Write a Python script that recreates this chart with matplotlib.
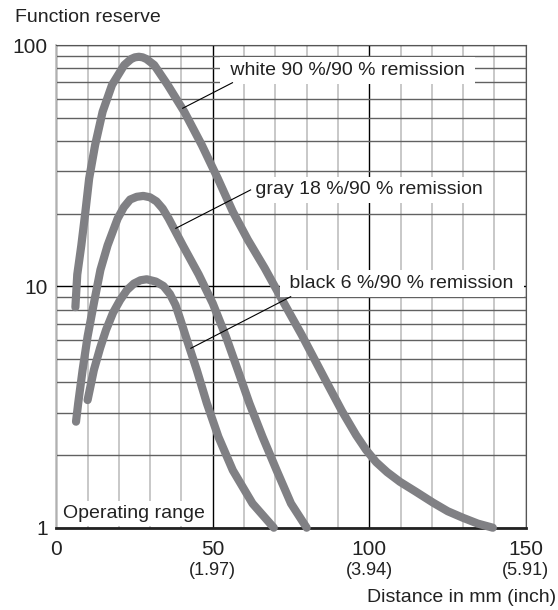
import numpy as np
import matplotlib
matplotlib.use("Agg")
import matplotlib.pyplot as plt
from matplotlib.ticker import FixedLocator, NullFormatter

plt.rcParams['font.family'] = ['Liberation Sans', 'DejaVu Sans']

# --- data (distance in mm, function reserve) ---
white_x = [6.1, 6.7, 8.0, 9.3, 10.5, 12.4, 14.8, 17.8, 21.7, 23.9, 25.1, 26.4, 27.6, 28.8,
           31.3, 35.6, 40.9, 46.5, 51.6, 56.4, 61.2, 66.6, 69.8, 72.8, 78.4, 86.4, 91.3,
           95.8, 99.0, 102.2, 105.7, 109.8, 114.9, 120.4, 125.1, 129.9, 134.7, 139.5]
white_y = [8.2, 11.2, 14.8, 20.4, 28, 38.5, 52.9, 68.3, 82.6, 87.5, 88.9, 89.4, 88.9, 87.5,
           82.6, 68.3, 52.9, 38.5, 28, 20.4, 15.6, 11.9, 10.0, 8.5, 6.3, 4.0, 3.04,
           2.42, 2.10, 1.87, 1.70, 1.55, 1.41, 1.27, 1.17, 1.10, 1.04, 1.0]

gray_x = [6.3, 7.0, 8.4, 10.0, 12.0, 14.1, 16.4, 19.6, 21.6, 23.6, 25.7, 27.8, 29.9, 32.0,
          34.0, 35.9, 40.4, 45.5, 50.0, 54.2, 58.0, 61.7, 65.9, 70.4, 75.0, 80.0]
gray_y = [2.75, 3.28, 4.5, 6.2, 8.5, 11.7, 14.8, 19.1, 21.3, 22.9, 23.5, 23.7, 23.4, 22.5,
          21.0, 19.1, 14.8, 11.2, 8.5, 6.2, 4.5, 3.28, 2.38, 1.73, 1.26, 1.0]

black_x = [10.0, 12.0, 14.0, 15.9, 18.1, 20.4, 22.6, 24.8, 26.9, 28.9, 31.8, 34.25, 36.3,
           38.1, 39.7, 41.4, 44.9, 48.1, 51.8, 56.4, 62.7, 69.5]
black_y = [3.38, 4.5, 5.55, 6.6, 7.76, 8.78, 9.66, 10.27, 10.6, 10.7, 10.47, 10.03, 9.3,
           8.37, 7.25, 6.19, 4.5, 3.28, 2.38, 1.73, 1.26, 1.0]

labels = ["white 90 %/90 % remission", "gray 18 %/90 % remission", "black 6 %/90 % remission"]
label_pos = [(53.8, 78.3), (61.8, 25.1), (72.9, 10.3)]
# leader lines: (curve point, label point)
leaders = [((40.4, 54.7), (56.3, 69.8)),
           ((38.2, 17.4), (62.1, 25.1)),
           ((43.0, 5.54), (74.9, 9.06))]

x_ticks = [0, 50, 100, 150]
x_inch = ["", "(1.97)", "(3.94)", "(5.91)"]
y_ticks = [1, 10, 100]
y_tick_labels = ["1", "10", "100"]

curve_col = "#808084"

fig = plt.figure(figsize=(5.58, 6.10), dpi=100)
ax = fig.add_axes([0.1009, 0.1349, 0.8412, 0.7913])
ax.set_yscale("log")
ax.set_xlim(0, 150)
ax.set_ylim(1, 100)

# grid
ax.xaxis.set_major_locator(FixedLocator(x_ticks))
ax.xaxis.set_minor_locator(FixedLocator(np.arange(10, 150, 10)))
ax.yaxis.set_major_locator(FixedLocator(y_ticks))
ax.yaxis.set_minor_locator(FixedLocator([2, 3, 4, 5, 6, 7, 8, 9, 20, 30, 40, 50, 60, 70, 80, 90]))
ax.yaxis.set_minor_formatter(NullFormatter())
ax.grid(which="major", axis="x", color="black", lw=1.0)
ax.grid(which="minor", axis="x", color="#c4c4c4", lw=1.3)
ax.grid(which="major", axis="y", color="black", lw=1.0)
ax.grid(which="minor", axis="y", color="#616161", lw=1.0)
ax.set_axisbelow(True)

ax.spines["left"].set_color("#c4c4c4")
ax.spines["left"].set_linewidth(1.3)
ax.spines["top"].set_color("#555555")
ax.spines["right"].set_color("#555555")
ax.spines["bottom"].set_color("#222222")
ax.spines["bottom"].set_linewidth(2.0)

ax.set_xticklabels([str(t) for t in x_ticks], fontsize=15, color="#222222")
ax.set_yticklabels(y_tick_labels, fontsize=15, color="#222222")
ax.tick_params(which="both", length=0)
ax.tick_params(axis="x", pad=9)
ax.tick_params(axis="y", pad=6)

for t, s in zip(x_ticks, x_inch):
    if s:
        ax.annotate(s, xy=(t, 1), xytext=(0, -31), textcoords="offset points",
                    ha="center", va="center", fontsize=13, color="#222222",
                    annotation_clip=False)

# curves
for xs, ys in [(white_x, white_y), (gray_x, gray_y), (black_x, black_y)]:
    ax.plot(xs, ys, color=curve_col, lw=5.9, solid_capstyle="round",
            solid_joinstyle="round", clip_on=False, zorder=4)

# labels with leader lines
for txt, (lx, ly) in zip(labels, label_pos):
    ax.text(lx, ly, " " + txt + " ", fontsize=14, color="#222222", ha="left", va="center",
            bbox=dict(facecolor="white", edgecolor="none", pad=3.5), zorder=5)
for (p0, p1) in leaders:
    ax.plot([p0[0], p1[0]], [p0[1], p1[1]], color="black", lw=0.8, zorder=6)

ax.text(2.3, 1.095, "Operating range", fontsize=14, color="#222222", ha="left", va="baseline",
        bbox=dict(facecolor="white", edgecolor="none", pad=3.0), zorder=1)

fig.text(15 / 558, 1 - 17 / 610, "Function reserve", fontsize=14, color="#222222",
         ha="left", va="center")
fig.text(556 / 558, 1 - 597 / 610, "Distance in mm (inch)", fontsize=14, color="#222222",
         ha="right", va="center")

fig.savefig("out.png", dpi=100)
